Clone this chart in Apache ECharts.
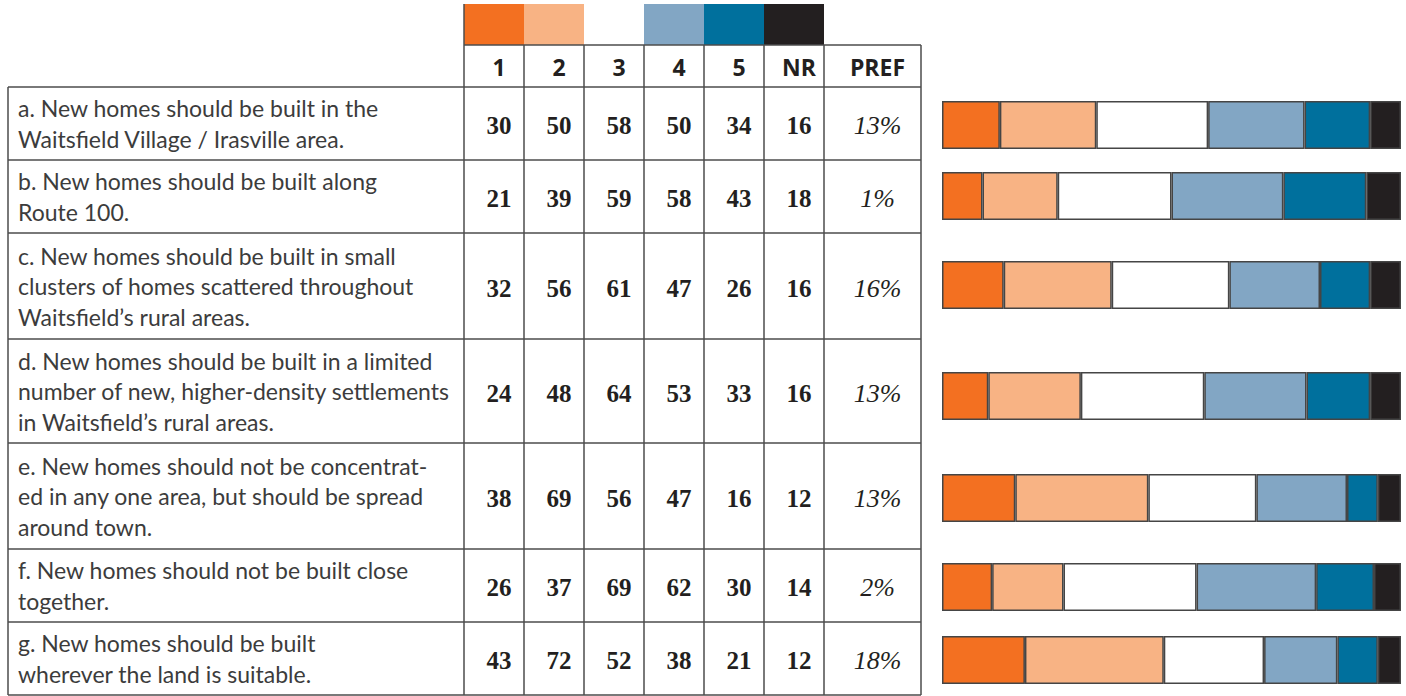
<!DOCTYPE html>
<html><head><meta charset="utf-8">
<script src="https://cdn.jsdelivr.net/npm/echarts@6/dist/echarts.min.js"></script>
<style>html,body{margin:0;padding:0;background:#fff}#c{width:1406px;height:696px}</style>
</head><body><div id="c"></div>
<script>
// ---- data ----
const statements = [
  "a. New homes should be built in the\nWaitsfield Village / Irasville area.",
  "b. New homes should be built along\nRoute 100.",
  "c. New homes should be built in small\nclusters of homes scattered throughout\nWaitsfield\u2019s rural areas.",
  "d. New homes should be built in a limited\nnumber of new, higher-density settlements\nin Waitsfield\u2019s rural areas.",
  "e. New homes should not be concentrat-\ned in any one area, but should be spread\naround town.",
  "f. New homes should not be built close\ntogether.",
  "g. New homes should be built\nwherever the land is suitable."
];
const columnLabels = ['1','2','3','4','5','NR','PREF'];
const resp1  = [30,21,32,24,38,26,43];
const resp2  = [50,39,56,48,69,37,72];
const resp3  = [58,59,61,64,56,69,52];
const resp4  = [50,58,47,53,47,62,38];
const resp5  = [34,43,26,33,16,30,21];
const respNR = [16,18,16,16,12,14,12];
const pref   = ['13%','1%','16%','13%','13%','2%','18%'];
const seriesColors = ['#F37021','#F8B384','#FFFFFF','#82A6C4','#00709D','#231F20'];

// ---- layout ----
const responses = [resp1, resp2, resp3, resp4, resp5, respNR];
const rowEdges = [87,160,233,339,443,549,622,695];
const colEdges = [464,524,584,644,704,764,824,921];
const tableLeft = 8;
const swatchTop = 4, headTop = 45;
const barTops = [101,172,261,372,474,563,636];
const barH = 48, barLeft = 942, barW = 459;
const lineColor = '#4d4d4d', lineW = 1.5;

const graphic = [];
function hline(x1,x2,y){graphic.push({type:'line',shape:{x1:x1,y1:y,x2:x2,y2:y},style:{stroke:lineColor,lineWidth:lineW},z:10});}
function vline(x,y1,y2){graphic.push({type:'line',shape:{x1:x,y1:y1,x2:x,y2:y2},style:{stroke:lineColor,lineWidth:lineW},z:10});}

// swatches
for (let k=0;k<6;k++){
  graphic.push({type:'rect',shape:{x:colEdges[k],y:swatchTop,width:colEdges[k+1]-colEdges[k],height:headTop-swatchTop},style:{fill:seriesColors[k]},z:5});
}
// header row
hline(colEdges[0], colEdges[7], headTop);
for (let k=0;k<colEdges.length;k++) vline(colEdges[k], k===0?swatchTop:headTop, rowEdges[7]);
for (let k=0;k<7;k++){
  graphic.push({type:'text',z:20,style:{text:columnLabels[k],x:(colEdges[k]+colEdges[k+1])/2+5,y:(headTop+rowEdges[0])/2+1,
    textAlign:'center',textVerticalAlign:'middle',font:'bold 23px "Open Sans", sans-serif',fill:'#231f20'}});
}
// body rows
for (let r=0;r<rowEdges.length;r++) hline(tableLeft, colEdges[7], rowEdges[r]);
vline(tableLeft, rowEdges[0], rowEdges[7]);
for (let i=0;i<7;i++){
  const cy = (rowEdges[i]+rowEdges[i+1])/2;
  graphic.push({type:'text',z:20,style:{text:statements[i],x:18,y:cy,textAlign:'left',textVerticalAlign:'middle',
    font:'23px Lato, sans-serif',lineHeight:30.5,fill:'#3c3c3c'}});
  for (let k=0;k<6;k++){
    graphic.push({type:'text',z:20,style:{text:String(responses[k][i]),x:(colEdges[k]+colEdges[k+1])/2+5,y:cy+2,
      textAlign:'center',textVerticalAlign:'middle',font:'bold 25px "Liberation Serif", serif',fill:'#231f20'}});
  }
  graphic.push({type:'text',z:20,style:{text:pref[i],x:(colEdges[6]+colEdges[7])/2+5,y:cy+2,
    textAlign:'center',textVerticalAlign:'middle',font:'italic 26px "Liberation Serif", serif',fill:'#231f20'}});
}

// ---- bars: one grid per statement ----
const grids=[], xAxes=[], yAxes=[], series=[];
for (let i=0;i<7;i++){
  const total = responses.reduce((s,a)=>s+a[i],0);
  grids.push({left:barLeft, top:barTops[i], width:barW, height:barH, containLabel:false});
  xAxes.push({type:'value', gridIndex:i, min:0, max:total, show:false});
  yAxes.push({type:'category', gridIndex:i, data:[statements[i].charAt(0)], show:false});
  for (let k=0;k<6;k++){
    series.push({type:'bar', name:columnLabels[k], xAxisIndex:i, yAxisIndex:i, stack:'row'+i,
      data:[responses[k][i]], barWidth:'100%', silent:true,
      itemStyle:{color:seriesColors[k], borderColor:'#454545', borderWidth:1.5}});
  }
}

const chart = echarts.init(document.getElementById('c'), null, {renderer:'svg'});
chart.setOption({animation:false, backgroundColor:'#fff', grid:grids, xAxis:xAxes, yAxis:yAxes, series:series, graphic:graphic});
</script></body></html>
